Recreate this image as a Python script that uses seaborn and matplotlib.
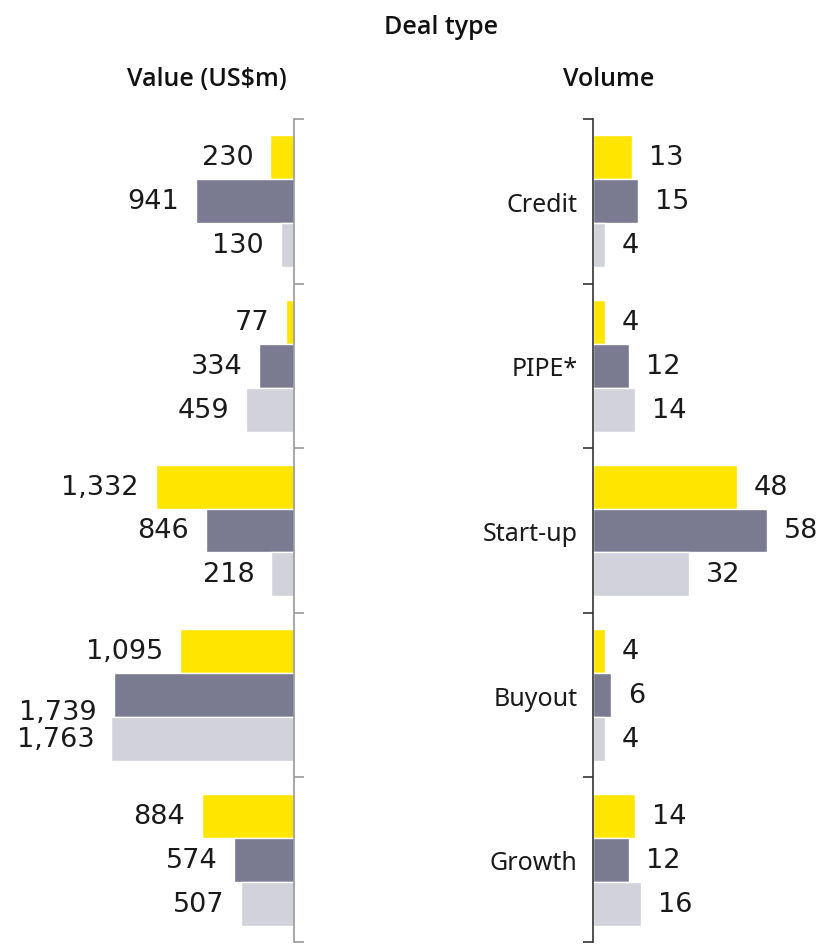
import matplotlib
matplotlib.use("Agg")
import matplotlib.pyplot as plt
import seaborn as sns
import pandas as pd
import numpy as np

# Deal types and three comparison periods
deal_types = ["Credit", "PIPE*", "Start-up", "Buyout", "Growth"]
series = ["Period 1", "Period 2", "Period 3"]

value_p1 = [230, 77, 1332, 1095, 884]
value_p2 = [941, 334, 846, 1739, 574]
value_p3 = [130, 459, 218, 1763, 507]

volume_p1 = [13, 4, 48, 4, 14]
volume_p2 = [15, 12, 58, 6, 12]
volume_p3 = [4, 14, 32, 4, 16]

colors = ["#FFE600", "#7A7A91", "#D2D2DA"]


def long_frame(cols):
    rows = []
    for s, vals in zip(series, cols):
        for d, v in zip(deal_types, vals):
            rows.append({"deal": d, "series": s, "v": v})
    return pd.DataFrame(rows)


value_df = long_frame([value_p1, value_p2, value_p3])
volume_df = long_frame([volume_p1, volume_p2, volume_p3])

sns.set_theme(style="white")
plt.rcParams["font.family"] = ["DejaVu Sans"]

W, H = 828, 945
fig = plt.figure(figsize=(W / 100, H / 100), dpi=100)

top_px, bot_px = 120, 943
ax_b = (H - bot_px) / H
ax_h = (bot_px - top_px) / H
ax_l = fig.add_axes([0, ax_b, 294 / W, ax_h])
ax_r = fig.add_axes([593 / W, ax_b, (W - 593) / W, ax_h])

num_kw = dict(fontsize=19.5, family="DejaVu Sans", color="#1a1a1a")
cat_kw = dict(fontsize=18, family=["Noto Sans", "DejaVu Sans"], color="#1a1a1a")

for ax, df in ((ax_l, value_df), (ax_r, volume_df)):
    sns.barplot(data=df, x="v", y="deal", hue="series", order=deal_types,
                hue_order=series, palette=colors, orient="h", saturation=1,
                legend=False, ax=ax, width=0.8)
    ax.set_ylim(4.5, -0.5)
    ax.set_xlabel("")
    ax.set_ylabel("")
    ax.set_xticks([])
    for sp in ax.spines.values():
        sp.set_visible(False)
    ax.set_facecolor("none")
    ax.set_yticks(np.arange(-0.5, 5.0, 1.0), minor=True)

# Left panel: value bars grow leftwards from the right-hand spine
ax_l.set_xlim(2835, 0)
ax_l.spines["right"].set_visible(True)
ax_l.spines["right"].set_color("#9A9A9A")
ax_l.spines["right"].set_linewidth(1.2)
ax_l.yaxis.tick_right()
ax_l.set_yticks(range(len(deal_types)))
ax_l.set_yticklabels([])
ax_l.tick_params(axis="y", which="major", length=0)
ax_l.tick_params(axis="y", which="minor", length=7, width=1.2,
                 color="#9A9A9A", direction="out", right=True, left=False)

# Right panel: volume bars grow rightwards, deal types as tick labels
ax_r.set_xlim(0, 78.3)
ax_r.spines["left"].set_visible(True)
ax_r.spines["left"].set_color("#333333")
ax_r.spines["left"].set_linewidth(1.2)
ax_r.yaxis.tick_left()
ax_r.set_yticks(range(len(deal_types)))
ax_r.set_yticklabels(deal_types, **cat_kw)
ax_r.tick_params(axis="y", which="major", length=0, pad=11)
ax_r.tick_params(axis="y", which="minor", length=7, width=1.2,
                 color="#333333", direction="out", left=True)

# Value labels at the outer end of each bar
nudge = {(0, 3, 1): 17}
for k, (ax, sign) in enumerate(((ax_l, -1), (ax_r, 1))):
    for si, cont in enumerate(ax.containers):
        for di, bar in enumerate(cont):
            w = bar.get_width()
            yc = bar.get_y() + bar.get_height() / 2
            dy = -nudge.get((k, di, si), 0)
            ax.annotate(f"{int(round(w)):,}", (w, yc),
                        xytext=(17 * sign, dy), textcoords="offset pixels",
                        ha="right" if sign < 0 else "left", va="center",
                        annotation_clip=False, **num_kw)

title_kw = dict(fontsize=18, fontweight="semibold", family=["Open Sans", "DejaVu Sans"],
                color="#111111", ha="center", va="center")
fig.text(441 / W, 1 - 27 / H, "Deal type", **title_kw)
fig.text(207 / W, 1 - 80 / H, "Value (US$m)", **title_kw)
fig.text(609 / W, 1 - 80 / H, "Volume", **title_kw)

fig.savefig("out.png", dpi=100)
